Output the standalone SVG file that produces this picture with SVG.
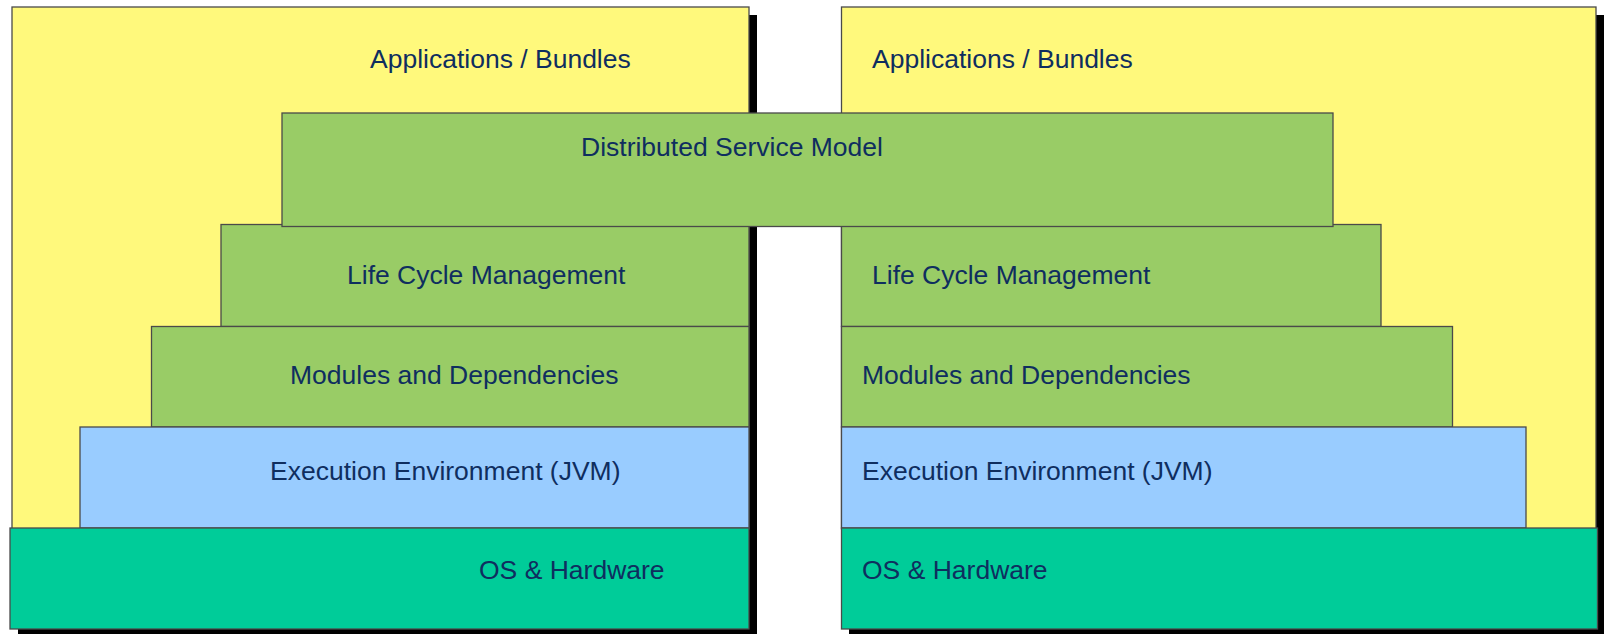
<svg xmlns="http://www.w3.org/2000/svg" width="1604" height="634" viewBox="0 0 1604 634">
  <style>
    .box { stroke: #4a4a4a; stroke-width: 1.3; }
    .shadow { fill: #000000; }
    .apps { fill: #fff97c; }
    .svc { fill: #99cc66; }
    .jvm { fill: #99ccff; }
    .os { fill: #00cc99; }
    .label { font-family: "Liberation Sans", Arial, sans-serif; font-size: 26.5px; fill: #0f2e5f; }
  </style>

  <rect x="0" y="0" width="1604" height="634" fill="#ffffff"/>

  <!-- Left framework stack -->
  <g id="left-stack">
    <g id="left-apps">
      <rect class="shadow" x="20" y="15" width="737" height="530"/>
      <rect class="box apps" x="12" y="7" width="737" height="522"/>
      <text class="label" x="370" y="68">Applications / Bundles</text>
    </g>
    <g id="left-lifecycle">
      <rect class="box svc" x="221" y="224.5" width="528" height="102"/>
      <text class="label" x="347" y="284">Life Cycle Management</text>
    </g>
    <g id="left-modules">
      <rect class="box svc" x="151.5" y="326.5" width="597.5" height="100.5"/>
      <text class="label" x="290" y="384">Modules and Dependencies</text>
    </g>
    <g id="left-jvm">
      <rect class="box jvm" x="80" y="427" width="669" height="101"/>
      <text class="label" x="270" y="480">Execution Environment (JVM)</text>
    </g>
    <g id="left-os">
      <rect class="shadow" x="18" y="536" width="739" height="101"/>
      <rect class="box os" x="10" y="528" width="739" height="101"/>
      <text class="label" x="479" y="579">OS &amp; Hardware</text>
    </g>
  </g>

  <!-- Right framework stack -->
  <g id="right-stack">
    <g id="right-apps">
      <rect class="shadow" x="849" y="15" width="755" height="530"/>
      <rect class="box apps" x="841.5" y="7" width="754.5" height="522"/>
      <text class="label" x="872" y="68">Applications / Bundles</text>
    </g>
    <g id="right-lifecycle">
      <rect class="box svc" x="841.5" y="224.5" width="539.5" height="102"/>
      <text class="label" x="872" y="284">Life Cycle Management</text>
    </g>
    <g id="right-modules">
      <rect class="box svc" x="841.5" y="326.5" width="611" height="100.5"/>
      <text class="label" x="862" y="384">Modules and Dependencies</text>
    </g>
    <g id="right-jvm">
      <rect class="box jvm" x="841.5" y="427" width="684.5" height="101"/>
      <text class="label" x="862" y="480">Execution Environment (JVM)</text>
    </g>
    <g id="right-os">
      <rect class="shadow" x="849" y="536" width="756" height="101"/>
      <rect class="box os" x="841.5" y="528" width="756" height="101"/>
      <text class="label" x="862" y="579">OS &amp; Hardware</text>
    </g>
  </g>

  <!-- Shared layer spanning both frameworks -->
  <g id="distributed-service-model">
    <rect class="box svc" x="282" y="113" width="1051" height="113.5"/>
    <text class="label" x="581" y="156">Distributed Service Model</text>
  </g>

  <g id="connectors"/>
</svg>
